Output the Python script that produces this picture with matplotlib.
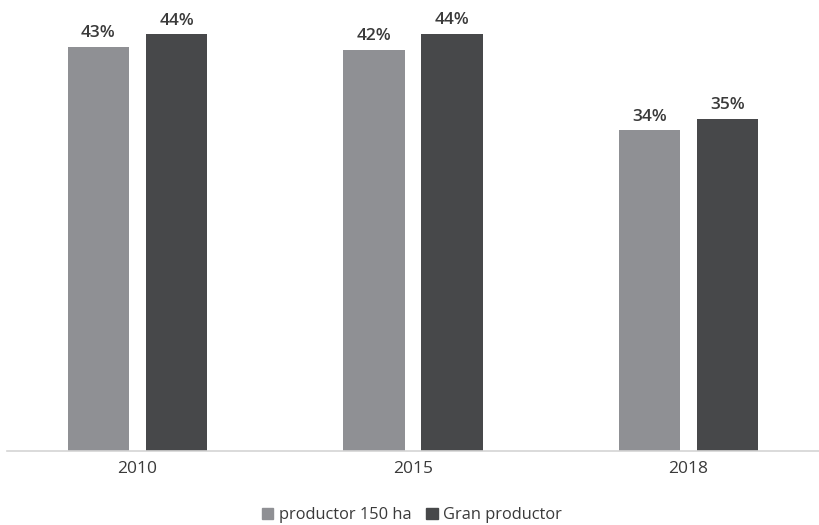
import matplotlib
matplotlib.use("Agg")
import matplotlib.pyplot as plt
from matplotlib.patches import Patch
import numpy as np

plt.rcParams['font.family'] = ['Open Sans', 'DejaVu Sans']

years = ["2010", "2015", "2018"]
series_names = ["productor 150 ha", "Gran productor"]
productor_150 = [42.7, 42.4, 33.9]
gran_productor = [44.0, 44.1, 35.1]
colors = ["#8f9094", "#47484a"]

W, H = 820, 525
fig = plt.figure(figsize=(W / 100, H / 100), dpi=100)
ax = fig.add_axes([7 / W, (H - 451) / H, (820 - 7) / W, 451 / H])

x = np.arange(len(years))
bar_w = 0.2236
offset = 0.142

for vals, col, sign in [(productor_150, colors[0], -1), (gran_productor, colors[1], 1)]:
    bars = ax.bar(x + sign * offset, vals, width=bar_w, color=col, zorder=2)
    for b, v in zip(bars, vals):
        ax.annotate(f"{v:.0f}%", (b.get_x() + b.get_width() / 2, v),
                    xytext=(0, 4), textcoords="offset points",
                    ha="center", va="bottom", fontsize=12.5,
                    fontweight="semibold", color="#3a3a3a")

ax.set_xlim((7 - 137.5) / 275.5, (820 - 137.5) / 275.5)
ax.set_ylim(0, 451 / 9.466)
ax.set_xticks(x)
ax.set_xticklabels(years, fontsize=12.5, color="#3a3a3a")
ax.tick_params(axis="x", length=0, pad=7)
ax.set_yticks([])
for s in ["top", "right", "left"]:
    ax.spines[s].set_visible(False)
ax.spines["bottom"].set_color("#d4d4d4")
ax.spines["bottom"].set_linewidth(1.2)

handles = [Patch(color=c, label=n) for c, n in zip(colors, series_names)]
fig.legend(handles=handles, loc="center", bbox_to_anchor=(412 / W, 1 - 515 / H),
           ncol=2, frameon=False, fontsize=11.8, handlelength=0.7, handleheight=0.7,
           handletextpad=0.35, columnspacing=0.9, labelcolor="#3a3a3a")

fig.savefig("out.png", dpi=100)
